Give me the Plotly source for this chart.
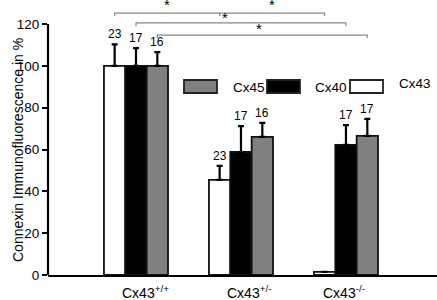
import plotly.graph_objects as go

# ---- data ----
genotypes = ["Cx43<sup>+/+</sup>", "Cx43<sup>+/-</sup>", "Cx43<sup>-/-</sup>"]
series_names = ["Cx43", "Cx40", "Cx45"]
cx43_vals = [100, 45.5, 1.5]
cx43_err = [10.3, 6.7, 0]
cx40_vals = [100, 58.8, 62.2]
cx40_err = [8.5, 12.4, 9.5]
cx45_vals = [100, 66.0, 66.5]
cx45_err = [6.6, 6.7, 8.1]
cx43_n = ["23", "23", ""]
cx40_n = ["17", "17", "17"]
cx45_n = ["16", "16", "17"]
y_ticks = [0, 20, 40, 60, 80, 100, 120]
# significance brackets: (group_a, series_a, group_b, series_b, level)
brackets = [(0, 0, 1, 0, 125.2), (1, 0, 2, 0, 125.2), (0, 1, 2, 1, 120.5), (0, 2, 2, 2, 114.7)]
star_shift = [0, 0, -0.15, -0.03]
star_yshift = [-2, -2, -5, -4]

W, H = 437, 300
ML, MB = 48, 25
PW, PH = W - ML, H - MB
YMAX = 120 * PH / 251.0
BARGAP = 0.39
BW = (1 - BARGAP) / 3
XR = [-0.838, 2.867]

colors = ["white", "black", "#808080"]
vals = [cx43_vals, cx40_vals, cx45_vals]
errs = [cx43_err, cx40_err, cx45_err]
ns = [cx43_n, cx40_n, cx45_n]
xs = list(range(len(genotypes)))

fig = go.Figure()
for i in range(3):
    fig.add_trace(go.Bar(
        x=xs, y=vals[i], name=series_names[i],
        marker=dict(color=colors[i], line=dict(color="#111", width=1.8)),
        error_y=dict(type="data", symmetric=False, array=errs[i],
                     arrayminus=[0] * 3, color="black", thickness=2.2, width=3),
        showlegend=False,
    ))

def bx(g, s):
    return g + (s - 1) * BW

ann = []
# n labels
for i in range(3):
    for g in xs:
        if ns[i][g]:
            ann.append(dict(x=bx(g, i), y=vals[i][g] + errs[i][g], xref="x", yref="y",
                            text=ns[i][g], showarrow=False, yanchor="bottom", yshift=1,
                            font=dict(size=12, color="black")))

shapes = []
tick = 1.4
for (ga, sa, gb, sb, lv), sh, sy in zip(brackets, star_shift, star_yshift):
    xa, xb = bx(ga, sa), bx(gb, sb)
    shapes.append(dict(type="path", xref="x", yref="y",
                       path=f"M {xa} {lv - tick} L {xa} {lv} L {xb} {lv} L {xb} {lv - tick}",
                       line=dict(color="#888", width=1.2)))
    ann.append(dict(x=(xa + xb) / 2 + sh, y=lv, xref="x", yref="y", text="*",
                    showarrow=False, yanchor="bottom", yshift=sy,
                    font=dict(size=15, color="black")))

# y axis line (only up to 120)
shapes.append(dict(type="line", xref="paper", yref="y", x0=0, x1=0, y0=0, y1=120,
                   line=dict(color="black", width=2.2)))

# category labels
label_shift = [10, 8, -2]
for g in xs:
    ann.append(dict(x=g, y=0, xref="x", yref="y", text=genotypes[g], showarrow=False,
                    yanchor="middle", yshift=-17, xshift=label_shift[g],
                    font=dict(size=14, color="black")))

# y title
ann.append(dict(x=(8 - ML) / PW, y=(PH - 150) / PH, xref="paper", yref="paper",
                text="Connexin Immunofluorescence in %", textangle=-90, showarrow=False,
                font=dict(size=14, color="black")))

# manual legend (Cx45, Cx40, Cx43)
leg = [(2, 184, 231, 87), (1, 267, 313, 87), (0, 350, 397, 84)]
for s, bx0, tx, ty in leg:
    shapes.append(dict(type="rect", xref="paper", yref="paper",
                       x0=(bx0 - ML) / PW, x1=(bx0 + 33 - ML) / PW,
                       y0=(PH - 93) / PH, y1=(PH - 80) / PH,
                       fillcolor=colors[s], line=dict(color="#222", width=1.8)))
    ann.append(dict(x=(tx - ML) / PW, y=(PH - ty) / PH, xref="paper", yref="paper",
                    text=series_names[s], showarrow=False, xanchor="left", yanchor="middle",
                    font=dict(size=13.5, color="black")))

fig.update_layout(
    width=W, height=H,
    margin=dict(l=ML, r=0, t=0, b=MB),
    barmode="group", bargap=BARGAP, bargroupgap=0,
    plot_bgcolor="white", paper_bgcolor="white",
    font=dict(family="Liberation Sans, Arial, sans-serif", color="black"),
    xaxis=dict(range=XR, showticklabels=False, ticks="", showline=True, linecolor="black",
               linewidth=2.2, showgrid=False, zeroline=False, fixedrange=True),
    yaxis=dict(range=[0, YMAX], tickvals=y_ticks, ticks="outside", ticklen=5, tickwidth=2,
               tickcolor="black", showline=False, showgrid=False, zeroline=False,
               tickfont=dict(size=13.5, color="black"), fixedrange=True),
    shapes=shapes, annotations=ann,
)
fig.write_html("out.html", config={"displayModeBar": False},
               post_script="document.body.style.margin='0';document.body.style.overflow='hidden';")
